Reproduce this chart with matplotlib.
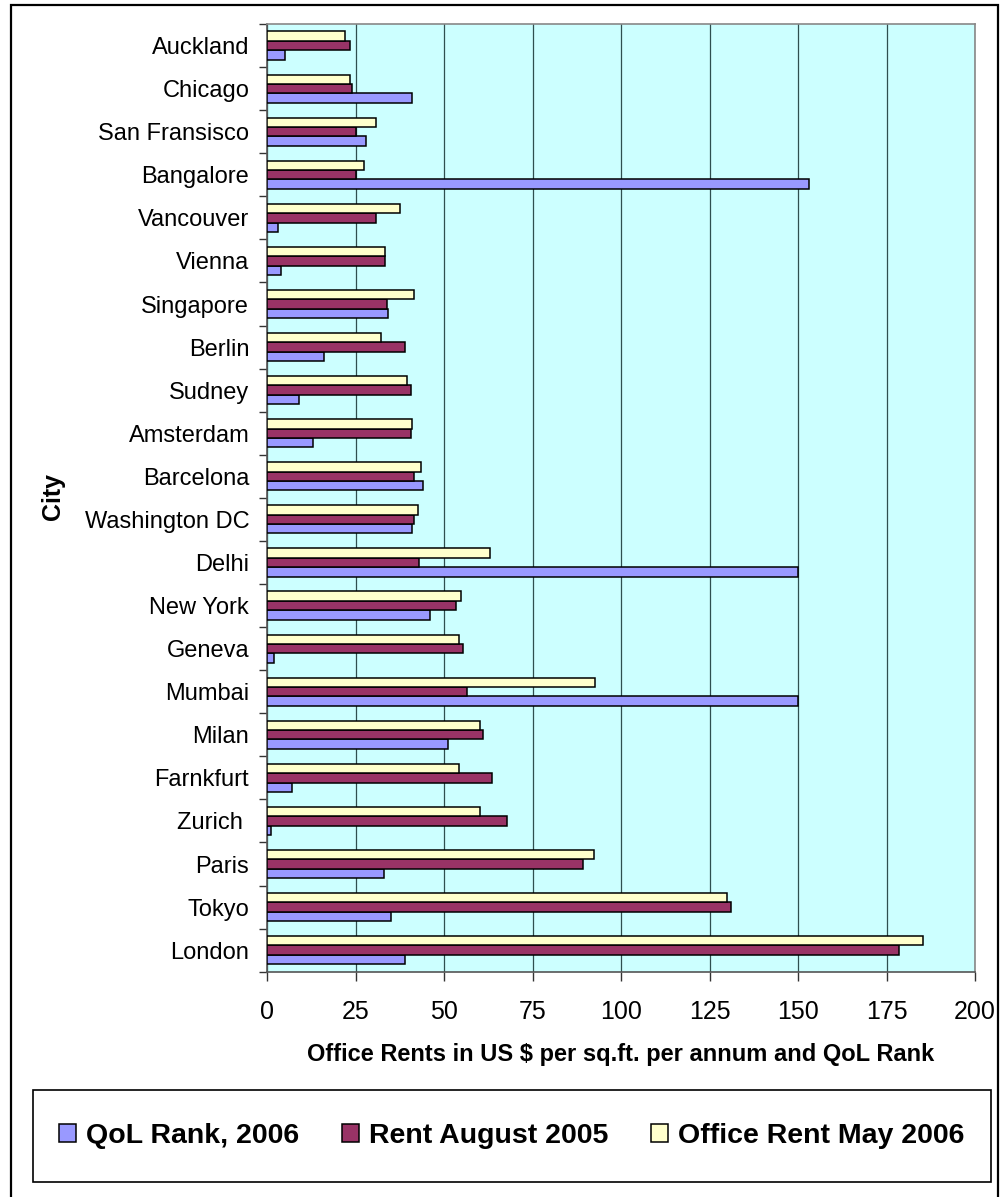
import matplotlib
matplotlib.use("Agg")
import matplotlib.pyplot as plt
from matplotlib.patches import Rectangle, Patch
import numpy as np

plt.rcParams['font.family'] = ['Liberation Sans', 'DejaVu Sans']

# Cities listed top to bottom as shown on the chart
cities = ["Auckland", "Chicago", "San Fransisco", "Bangalore", "Vancouver", "Vienna",
          "Singapore", "Berlin", "Sudney", "Amsterdam", "Barcelona", "Washington DC",
          "Delhi", "New York", "Geneva", "Mumbai", "Milan", "Farnkfurt", "Zurich ",
          "Paris", "Tokyo", "London"]
qol_rank_2006 = [5, 41, 28, 153, 3, 4, 34, 16, 9, 13, 44, 41,
                 150, 46, 2, 150, 51, 7, 1, 33, 35, 39]
rent_aug_2005 = [23.5, 24, 25, 25, 30.7, 33.2, 33.7, 39, 40.5, 40.5, 41.4, 41.4,
                 43, 53.2, 55.3, 56.3, 61, 63.6, 67.7, 89.2, 131, 178.5]
rent_may_2006 = [22, 23.4, 30.7, 27.2, 37.4, 33.2, 41.4, 32.2, 39.4, 40.9, 43.5, 42.5,
                 63, 54.8, 54.3, 92.7, 60, 54.3, 60, 92.3, 130, 185.2]
series_labels = ["QoL Rank, 2006", "Rent August 2005", "Office Rent May 2006"]
series_colors = ["#9999FF", "#993366", "#FFFFCC"]
x_ticks = [0, 25, 50, 75, 100, 125, 150, 175, 200]

W, H = 1003, 1197
fig = plt.figure(figsize=(W / 100, H / 100), dpi=100)
fig.patch.set_facecolor("white")

# outer chart border (its bottom edge runs below the canvas)
fig.add_artist(Rectangle((11 / W, -0.01), (998 - 11) / W, 1.01 - 5 / H,
                         transform=fig.transFigure, fill=False, edgecolor="black",
                         linewidth=1.6, zorder=0))

left, right = 267.3 / W, 975 / W
top, bottom = 1 - 24 / H, 1 - 971.7 / H
ax = fig.add_axes([left, bottom, right - left, top - bottom])
ax.set_facecolor("#CCFFFF")

n = len(cities)
y = np.arange(n)[::-1]  # first city at the top
h = 0.218
series = [qol_rank_2006, rent_aug_2005, rent_may_2006]
offsets = [-h, 0.0, h]
for vals, off, col, lab in zip(series, offsets, series_colors, series_labels):
    ax.barh(y + off, vals, height=h, color=col, edgecolor="black",
            linewidth=1.1, label=lab, zorder=3)

ax.set_xlim(0, 200)
ax.set_ylim(-0.5, n - 0.5)
ax.set_xticks(x_ticks)
ax.set_xticklabels([str(t) for t in x_ticks], fontsize=18)
ax.set_yticks(y)
ax.set_yticklabels(cities, fontsize=17)
ax.set_yticks(np.arange(-0.5, n, 1.0), minor=True)
ax.tick_params(axis="y", which="major", length=0, pad=13)
ax.tick_params(axis="y", which="minor", length=5.5, width=1, color="#333333", direction="out")
ax.tick_params(axis="x", which="major", length=6.5, width=1, color="#333333",
               direction="out", pad=14)

ax.grid(axis="x", color="#2f4f4f", linewidth=0.9, zorder=1)
ax.set_axisbelow(True)
for side in ["top", "right"]:
    ax.spines[side].set_color("#888888")
    ax.spines[side].set_linewidth(1.2)
for side in ["left", "bottom"]:
    ax.spines[side].set_color("#555555")
    ax.spines[side].set_linewidth(1.2)

fig.text(53 / W, 1 - 497 / H, "City", rotation=90, fontsize=18, fontweight="bold",
         ha="center", va="center")
fig.text(621 / W, 1 - 1055 / H, "Office Rents in US $ per sq.ft. per annum and QoL Rank",
         fontsize=17, fontweight="bold", ha="center", va="center")

# legend box
fig.add_artist(Rectangle((32.7 / W, 1 - 1182 / H), (990.7 - 32.7) / W, (1182 - 1090) / H,
                         transform=fig.transFigure, fill=False, edgecolor="black",
                         linewidth=1.2))
handles = [Patch(facecolor=c, edgecolor="black", linewidth=1.1) for c in series_colors]
fig.legend(handles, series_labels, loc="center", ncol=3,
           bbox_to_anchor=((32.7 + 990.7) / 2 / W, 1 - 1136 / H),
           frameon=False, prop={"size": 20.5, "weight": "bold"},
           handlelength=0.6, handleheight=0.6, handletextpad=0.35,
           columnspacing=1.5)

fig.savefig("out.png", dpi=100)
